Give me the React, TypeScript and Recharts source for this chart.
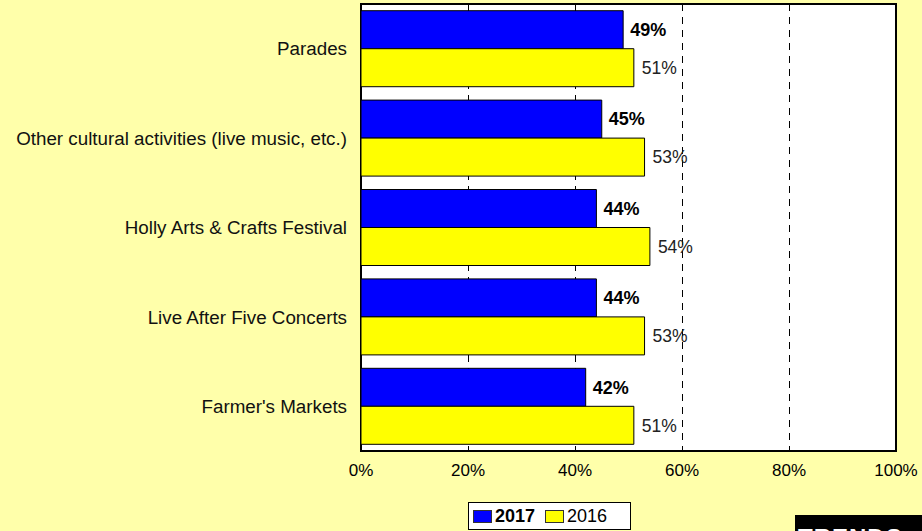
import React from "react";
import {
  BarChart,
  Bar,
  XAxis,
  YAxis,
  CartesianGrid,
  LabelList,
  ReferenceArea,
} from "recharts";

const categories = [
  "Parades",
  "Other cultural activities (live music, etc.)",
  "Holly Arts & Crafts Festival",
  "Live After Five Concerts",
  "Farmer's Markets",
];
const values2017 = [49, 45, 44, 44, 42];
const values2016 = [51, 53, 54, 53, 51];
const xTicks = [0, 20, 40, 60, 80, 100];
const seriesNames = ["2017", "2016"];
const seriesColors = ["#0000FF", "#FFFF00"];

const data = categories.map((c, i) => ({
  name: c,
  v2017: values2017[i],
  v2016: values2016[i],
}));

const FONT = "'Liberation Sans', Arial, sans-serif";
const BG = "#FFFFAA";

export default function App() {
  return (
    <div
      style={{
        position: "absolute",
        left: 0,
        top: 0,
        width: 922,
        height: 531,
        background: BG,
        overflow: "hidden",
        fontFamily: FONT,
      }}
    >
      <BarChart
        width={922}
        height={531}
        data={data}
        layout="vertical"
        margin={{ top: 4, right: 26, bottom: 50, left: 0 }}
        barCategoryGap="7.5%"
        barGap={0}
      >
        <CartesianGrid
          horizontal={false}
          vertical={true}
          stroke="#000"
          strokeWidth={1}
          strokeDasharray="7 6"
          shapeRendering="crispEdges"
          fill="#FFFFFF"
          fillOpacity={1}
        />
        <XAxis
          type="number"
          domain={[0, 100]}
          ticks={xTicks}
          tickFormatter={(v: number) => `${v}%`}
          axisLine={false}
          tickLine={false}
          tickSize={0}
          tickMargin={13}
          height={30}
          interval={0}
          tick={{ fontSize: 17, fill: "#000", fontFamily: FONT }}
        />
        <YAxis
          type="category"
          dataKey="name"
          width={361}
          axisLine={false}
          tickLine={false}
          tickSize={0}
          tickMargin={14}
          interval={0}
          tick={{ fontSize: 18.8, fill: "#111", fontFamily: FONT }}
        />
        <Bar
          dataKey="v2017"
          name={seriesNames[0]}
          fill={seriesColors[0]}
          stroke="#000"
          strokeWidth={1}
          isAnimationActive={false}
        >
          <LabelList
            dataKey="v2017"
            position="right"
            offset={7}
            formatter={(v: any) => `${v}%`}
            style={{ fontSize: 18, fontWeight: "bold", fill: "#000", fontFamily: FONT }}
          />
        </Bar>
        <Bar
          dataKey="v2016"
          name={seriesNames[1]}
          fill={seriesColors[1]}
          stroke="#000"
          strokeWidth={1}
          isAnimationActive={false}
        >
          <LabelList
            dataKey="v2016"
            position="right"
            offset={8}
            formatter={(v: any) => `${v}%`}
            style={{ fontSize: 17.5, fill: "#222", fontFamily: FONT }}
          />
        </Bar>
        <ReferenceArea
          x1={0}
          x2={100}
          fill="none"
          fillOpacity={0}
          stroke="#000"
          strokeWidth={2}
          ifOverflow="extendDomain"
        />
      </BarChart>

      <div
        style={{
          position: "absolute",
          left: 468,
          top: 502,
          width: 163,
          height: 28,
          background: "#fff",
          border: "1px solid #000",
          display: "flex",
          alignItems: "center",
          paddingLeft: 4,
          boxSizing: "border-box",
          fontSize: 18,
          color: "#000",
        }}
      >
        {seriesNames.map((n, i) => (
          <div
            key={n}
            style={{ display: "flex", alignItems: "center", marginRight: 10 }}
          >
            <span
              style={{
                display: "inline-block",
                width: 17,
                height: 11,
                background: seriesColors[i],
                border: "1px solid #333",
                marginRight: 3,
              }}
            />
            <span style={{ fontWeight: i === 0 ? "bold" : "normal" }}>{n}</span>
          </div>
        ))}
      </div>

      <div
        style={{
          position: "absolute",
          left: 795,
          top: 515,
          width: 200,
          height: 40,
          background: "#000",
          color: "#fff",
          fontWeight: "bold",
          fontSize: 24,
          paddingLeft: 3,
          paddingTop: 9,
          boxSizing: "border-box",
          letterSpacing: 1,
        }}
      >
        TRENDS
      </div>
    </div>
  );
}
